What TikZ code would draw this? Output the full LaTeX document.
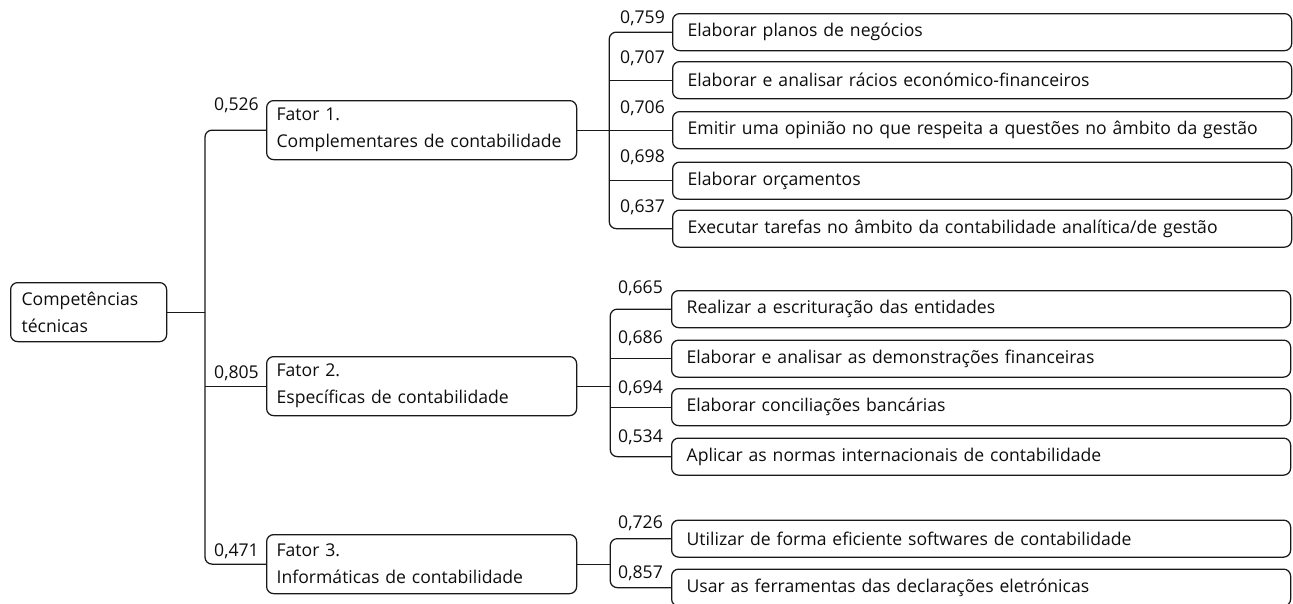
\documentclass[tikz,border=0pt]{standalone}
\usepackage{fontspec}
\setmainfont{Open Sans}
\usetikzlibrary{calc}
\begin{document}
\begin{tikzpicture}[x=1pt,y=-1pt,
  every node/.style={font=\fontsize{17.6}{27}\selectfont, text=black!95},
  box/.style={draw=black!90, line width=1.25pt, rounded corners=7pt, anchor=north west, align=left},
  rootbox/.style={box, minimum width=156pt, minimum height=59pt, text width=134pt, inner xsep=11pt, inner ysep=0pt},
  facbox/.style={box, minimum width=310pt, minimum height=59pt, text width=290pt, inner xsep=10pt, inner ysep=0pt},
  leafbox/.style={box, minimum width=619pt, minimum height=37pt, text width=589pt, inner xsep=15pt, inner ysep=0pt},
  conn/.style={draw=black!90, line width=1.25pt},
  rconn/.style={conn, rounded corners=7pt},
  lab/.style={anchor=east, inner sep=0pt}
]
\useasboundingbox (0,0) rectangle (1293,603);
\clip (0,0) rectangle (1293,603);

% root
\node[rootbox] (root) at (10,282) {Competências\\técnicas};

% factors
\node[facbox] (f1) at (266,100) {Fator 1.\\Complementares de contabilidade};
\node[facbox] (f2) at (266,356) {Fator 2.\\Específicas de contabilidade};
\node[facbox] (f3) at (266,534) {Fator 3.\\Informáticas de contabilidade};

% leaves factor 1
\node[leafbox] (a1) at (672,13) {Elaborar planos de negócios};
\node[leafbox] (a2) at (672,61) {Elaborar e analisar rácios económico-financeiros};
\node[leafbox] (a3) at (672,111) {Emitir uma opinião no que respeita a questões no âmbito da gestão};
\node[leafbox] (a4) at (672,161.5) {Elaborar orçamentos};
\node[leafbox] (a5) at (672,209.5) {Executar tarefas no âmbito da contabilidade analítica/de gestão};

% leaves factor 2
\node[leafbox] (b1) at (671,290) {Realizar a escrituração das entidades};
\node[leafbox] (b2) at (671,339.5) {Elaborar e analisar as demonstrações financeiras};
\node[leafbox] (b3) at (671,388) {Elaborar conciliações bancárias};
\node[leafbox] (b4) at (671,437.5) {Aplicar as normas internacionais de contabilidade};

% leaves factor 3
\node[leafbox] (c1) at (671,519.5) {Utilizar de forma eficiente softwares de contabilidade};
\node[leafbox] (c2) at (671,568.5) {Usar as ferramentas das declarações eletrónicas};

% main connectors
\coordinate (m) at (205,0 |- root.east);
\draw[conn] (root.east) -- (m);
\draw[rconn] (f1.west) -| (m);
\draw[rconn] (f3.west) -| (m);
\draw[conn] (f2.west) -- (f2.west -| m);

% factor 1 connectors
\coordinate (p1) at ($(f1.east)+(32,0)$);
\draw[conn] (f1.east) -- (p1);
\draw[rconn] (a1.west) -| (p1);
\draw[rconn] (a5.west) -| (p1);
\draw[conn] (a2.west) -- (a2.west -| p1);
\draw[conn] (a3.west) -- (a3.west -| p1);
\draw[conn] (a4.west) -- (a4.west -| p1);

% factor 2 connectors
\coordinate (p2) at ($(f2.east)+(33,0)$);
\draw[conn] (f2.east) -- (p2);
\draw[rconn] (b1.west) -| (p2);
\draw[rconn] (b4.west) -| (p2);
\draw[conn] (b2.west) -- (b2.west -| p2);
\draw[conn] (b3.west) -- (b3.west -| p2);

% factor 3 connectors
\coordinate (p3) at ($(f3.east)+(33,0)$);
\draw[conn] (f3.east) -- (p3);
\draw[rconn] (c1.west) -| (p3);
\draw[rconn] (c2.west) -| (p3);

% labels
\node[lab] (lf1) at (259,105) {0,526};
\node[lab] (lf2) at (259,373) {0,805};
\node[lab] (lf3) at (259,551) {0,471};

\node[lab] (la1) at (665,18) {0,759};
\node[lab] (la2) at (665,58) {0,707};
\node[lab] (la3) at (665,108) {0,706};
\node[lab] (la4) at (665,157) {0,698};
\node[lab] (la5) at (665,207) {0,637};

\node[lab] (lb1) at (663,288) {0,665};
\node[lab] (lb2) at (663,338) {0,686};
\node[lab] (lb3) at (663,388) {0,694};
\node[lab] (lb4) at (663,437) {0,534};

\node[lab] (lc1) at (663,523) {0,726};
\node[lab] (lc2) at (663,573) {0,857};
\end{tikzpicture}
\end{document}
